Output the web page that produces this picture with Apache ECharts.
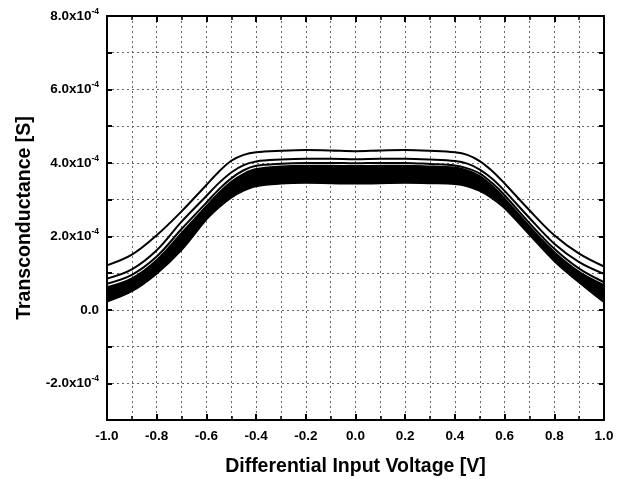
<!DOCTYPE html>
<html>
<head>
<meta charset="utf-8">
<script src="https://cdn.jsdelivr.net/npm/echarts@6/dist/echarts.min.js"></script>
<style>
  html, body { margin: 0; padding: 0; background: #fff; }
  #chart { width: 623px; height: 479px; }
</style>
</head>
<body>
<div id="chart"></div>
<script>
// Differential input voltage [V]
var voltage = [-1.0, -0.9, -0.8, -0.7, -0.6, -0.55, -0.5, -0.45, -0.4, -0.3, -0.2, -0.1, 0.0, 0.1, 0.2, 0.3, 0.4, 0.45, 0.5, 0.55, 0.6, 0.7, 0.8, 0.9, 1.0];
// Transconductance in units of 1e-4 S
var curveTop    = [1.21, 1.50, 2.03, 2.68, 3.40, 3.76, 4.06, 4.22, 4.29, 4.33, 4.35, 4.34, 4.32, 4.34, 4.35, 4.33, 4.29, 4.22, 4.05, 3.78, 3.44, 2.71, 2.03, 1.53, 1.18];
var curveSecond = [0.85, 1.10, 1.62, 2.40, 3.10, 3.45, 3.74, 3.94, 4.04, 4.09, 4.11, 4.11, 4.10, 4.11, 4.11, 4.09, 4.05, 3.98, 3.82, 3.57, 3.24, 2.50, 1.80, 1.30, 0.98];
var curveThird  = [0.71, 0.95, 1.45, 2.20, 2.92, 3.28, 3.58, 3.80, 3.92, 3.98, 4.00, 4.00, 3.99, 4.00, 4.00, 3.97, 3.93, 3.85, 3.71, 3.45, 3.12, 2.36, 1.66, 1.12, 0.75];
var bandUpper   = [0.62, 0.86, 1.36, 2.10, 2.83, 3.19, 3.49, 3.71, 3.84, 3.91, 3.93, 3.93, 3.92, 3.93, 3.93, 3.91, 3.88, 3.80, 3.65, 3.38, 3.04, 2.28, 1.58, 1.04, 0.68];
var bandLower   = [0.22, 0.50, 0.98, 1.62, 2.45, 2.78, 3.05, 3.24, 3.36, 3.43, 3.45, 3.44, 3.43, 3.44, 3.45, 3.44, 3.42, 3.36, 3.23, 3.03, 2.76, 2.04, 1.32, 0.74, 0.20];
// tick labels
var xTickLabels = ['-1.0', '-0.8', '-0.6', '-0.4', '-0.2', '0.0', '0.2', '0.4', '0.6', '0.8', '1.0'];
var yTickValues = [-2, 0, 2, 4, 6, 8];

function pairs(ys) { return voltage.map(function (x, i) { return [x, ys[i]]; }); }
// [y, x] rows so that the stacked (first numeric) dimension is the y value
function stackRows(ys) { return voltage.map(function (x, i) { return [ys[i], x]; }); }
function diffRows(hi, lo) { return voltage.map(function (x, i) { return [+(hi[i] - lo[i]).toFixed(3), x]; }); }

var FONT = '"Liberation Sans", Arial, sans-serif';
var gridLine = { show: true, lineStyle: { color: '#666', width: 1, type: [2, 3] } };

var chart = echarts.init(document.getElementById('chart'), null, { renderer: 'canvas' });
var lineBase = { type: 'line', showSymbol: false, smooth: 0.35, silent: true, animation: false };

chart.setOption({
  animation: false,
  backgroundColor: '#fff',
  grid: { left: 107, right: 19, top: 16, bottom: 59, containLabel: false, outerBoundsMode: 'none' },
  xAxis: [{
    type: 'value', min: -1, max: 1, interval: 0.2,
    name: 'Differential Input Voltage [V]', nameLocation: 'middle', nameGap: 37,
    nameTextStyle: { fontFamily: FONT, fontWeight: 'bold', fontSize: 19.5, color: '#000' },
    axisLine: { show: true, onZero: false, lineStyle: { color: '#000', width: 2 } },
    axisTick: { show: true, inside: true, length: 6, lineStyle: { color: '#000', width: 2 } },
    minorTick: { show: true, splitNumber: 2, length: 4, lineStyle: { color: '#000', width: 1.5 } },
    splitLine: gridLine,
    minorSplitLine: gridLine,
    axisLabel: {
      fontFamily: FONT, fontWeight: 'bold', fontSize: 13.5, color: '#000', margin: 9,
      formatter: function (v) { var i = Math.round((v + 1) / 0.2); return xTickLabels[i] || ''; }
    }
  }, {
    type: 'value', min: -1, max: 1, interval: 0.2, position: 'top',
    axisLine: { show: true, onZero: false, lineStyle: { color: '#000', width: 2 } },
    axisTick: { show: true, inside: true, length: 6, lineStyle: { color: '#000', width: 2 } },
    minorTick: { show: true, splitNumber: 2, length: 4, lineStyle: { color: '#000', width: 1.5 } },
    splitLine: { show: false }, axisLabel: { show: false }
  }],
  yAxis: [{
    type: 'value', min: -3, max: 8, interval: 1,
    name: 'Transconductance [S]', nameLocation: 'middle', nameGap: 68, nameRotate: 90,
    nameTextStyle: { fontFamily: FONT, fontWeight: 'bold', fontSize: 19.5, color: '#000' },
    axisLine: { show: true, onZero: false, lineStyle: { color: '#000', width: 2 } },
    axisTick: { show: true, inside: true, length: 5, lineStyle: { color: '#000', width: 2 } },
    splitLine: gridLine,
    axisLabel: {
      margin: 8,
      formatter: function (v) {
        if (yTickValues.indexOf(v) < 0) return '';
        if (v === 0) return '{m|0.0}';
        return '{m|' + v.toFixed(1) + 'x10}{s|-4}';
      },
      rich: {
        m: { fontFamily: FONT, fontWeight: 'bold', fontSize: 13.5, color: '#000' },
        s: { fontFamily: FONT, fontWeight: 'bold', fontSize: 8.5, color: '#000', verticalAlign: 'top', padding: [0, 0, 9, 0] }
      }
    }
  }, {
    type: 'value', min: -3, max: 8, interval: 1, position: 'right',
    axisLine: { show: true, onZero: false, lineStyle: { color: '#000', width: 2 } },
    axisTick: { show: true, inside: true, length: 5, lineStyle: { color: '#000', width: 2 } },
    splitLine: { show: false }, axisLabel: { show: false }
  }],
  series: [
    Object.assign({}, lineBase, {
      name: 'bandLower', stack: 'band', data: stackRows(bandLower), encode: { x: 1, y: 0 },
      lineStyle: { color: '#000', width: 1.5 }
    }),
    Object.assign({}, lineBase, {
      name: 'bandUpper', stack: 'band', data: diffRows(bandUpper, bandLower), encode: { x: 1, y: 0 },
      lineStyle: { color: '#000', width: 1.5 },
      areaStyle: { color: '#000', opacity: 1 }
    }),
    Object.assign({}, lineBase, { name: 'third', data: pairs(curveThird), lineStyle: { color: '#000', width: 2 } }),
    Object.assign({}, lineBase, { name: 'second', data: pairs(curveSecond), lineStyle: { color: '#000', width: 2 } }),
    Object.assign({}, lineBase, { name: 'top', data: pairs(curveTop), lineStyle: { color: '#000', width: 2 } })
  ]
});
</script>
</body>
</html>
